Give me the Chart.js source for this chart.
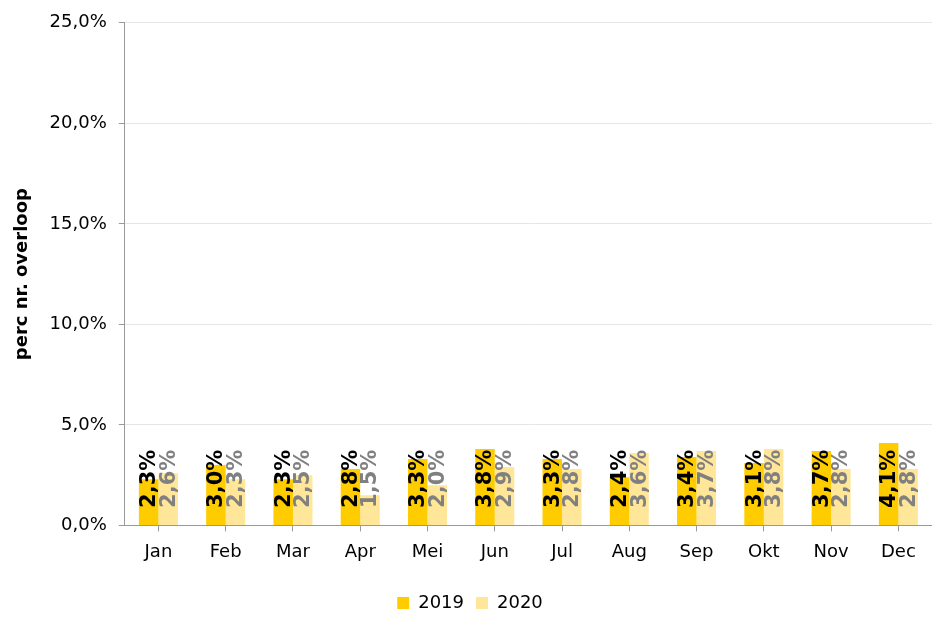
<!DOCTYPE html>
<html>
<head>
<meta charset="utf-8">
<script src="https://cdn.jsdelivr.net/npm/chart.js@4.4.1/dist/chart.umd.min.js"></script>
<style>
    html, body { margin: 0; padding: 0; background: #fff; }
    #wrap { width: 932px; height: 617px; position: relative; }
</style>
</head>
<body>
<div id="wrap"><canvas id="overloopChart"></canvas></div>
<script>
// maanden en percentages (aflezen uit de figuur)
const months = ['Jan', 'Feb', 'Mar', 'Apr', 'Mei', 'Jun', 'Jul', 'Aug', 'Sep', 'Okt', 'Nov', 'Dec'];
const values2019 = [2.3, 3.0, 2.3, 2.8, 3.3, 3.8, 3.3, 2.4, 3.4, 3.1, 3.7, 4.1];
const values2020 = [2.6, 2.3, 2.5, 1.5, 2.0, 2.9, 2.8, 3.6, 3.7, 3.8, 2.8, 2.8];
const yTicks = [0, 5, 10, 15, 20, 25];

const fontFamily = '"DejaVu Sans", Verdana, sans-serif';
const fmt = v => v.toFixed(1).replace('.', ',') + '%';

// labels verticaal in de balken
const barLabels = {
    id: 'barLabels',
    afterDatasetsDraw(chart) {
        const ctx = chart.ctx;
        const labelColors = ['#000000', '#808080'];
        chart.data.datasets.forEach((ds, i) => {
            const meta = chart.getDatasetMeta(i);
            meta.data.forEach((bar, j) => {
                ctx.save();
                ctx.translate(bar.x, bar.base - 17);
                ctx.rotate(-Math.PI / 2);
                ctx.font = 'bold 21px ' + fontFamily;
                ctx.fillStyle = labelColors[i];
                ctx.textAlign = 'left';
                ctx.textBaseline = 'middle';
                ctx.fillText(fmt(ds.data[j]), 0, 1);
                ctx.restore();
            });
        });
    }
};

const ctxChart = document.getElementById('overloopChart').getContext('2d');
new Chart(ctxChart, {
    type: 'bar',
    data: {
        labels: months,
        datasets: [
            { label: '2019', data: values2019, backgroundColor: '#FFCC00', barPercentage: 1, categoryPercentage: 0.58 },
            { label: '2020', data: values2020, backgroundColor: '#FFE699', barPercentage: 1, categoryPercentage: 0.58 }
        ]
    },
    options: {
        responsive: true,
        maintainAspectRatio: false,
        animation: false,
        layout: { padding: { top: 18, right: 0, left: 8, bottom: -5 } },
        plugins: {
            legend: {
                position: 'bottom',
                labels: {
                    color: '#000',
                    font: { family: fontFamily, size: 18 },
                    boxWidth: 12,
                    boxHeight: 12,
                    padding: 12
                }
            },
            tooltip: { enabled: false }
        },
        scales: {
            x: {
                afterFit: axis => { axis.height += 9; },
                grid: { display: true, drawOnChartArea: false, offset: false, color: '#999', tickLength: 6 },
                border: { color: '#999' },
                ticks: { color: '#000', font: { family: fontFamily, size: 18 }, padding: 10 }
            },
            y: {
                min: 0,
                max: 25,
                afterBuildTicks: axis => { axis.ticks = yTicks.map(v => ({ value: v })); },
                grid: { color: '#e6e6e6', tickLength: 6, tickColor: '#999' },
                border: { color: '#999' },
                ticks: { color: '#000', font: { family: fontFamily, size: 18 }, callback: v => fmt(v), padding: 12 },
                title: {
                    display: true,
                    text: 'perc nr. overloop',
                    color: '#000',
                    font: { family: fontFamily, size: 18, weight: 'bold' },
                    padding: { bottom: 4 }
                }
            }
        }
    },
    plugins: [barLabels]
});
</script>
</body>
</html>
